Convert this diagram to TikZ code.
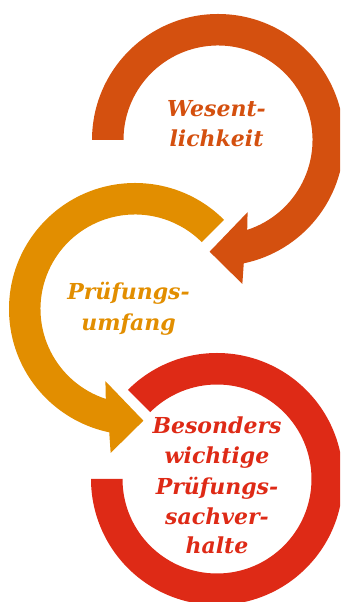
\documentclass[tikz,border=0pt]{standalone}
\usepackage{fontspec}
\setmainfont{DejaVu Serif}
\usetikzlibrary{calc}
\definecolor{topc}{HTML}{D4500F}
\definecolor{midc}{HTML}{E28E00}
\definecolor{redc}{HTML}{DE2A16}
\tikzset{
  lbl/.style={inner sep=0pt, anchor=base, font=\fontsize{22}{30}\selectfont\bfseries\itshape},
}
\begin{document}
\begin{tikzpicture}[x=1pt,y=1pt]
\useasboundingbox (0,0) rectangle (340,602);
\clip (0,0) rectangle (340,602);
% centres
\coordinate (ct) at (218,462);
\coordinate (co) at (135,293);
\coordinate (cr) at (217,123);
% top ring, clockwise, arrow at the lower left
\fill[topc] ($(ct)+(180:126pt)$) arc[start angle=180, end angle=-78.2, radius=126pt]
  -- ($(ct)+(-80.4:146pt)$) -- ($(ct)+(-94.3:112pt)$) -- ($(ct)+(-67.7:78pt)$)
  -- ($(ct)+(-72:94.5pt)$) arc[start angle=-72, end angle=180, radius=94.5pt] -- cycle;
% middle ring, counter-clockwise, arrow at the bottom
\fill[midc] ($(co)+(45:126pt)$) arc[start angle=45, end angle=258.2, radius=126pt]
  -- ($(co)+(260.4:146pt)$) -- ($(co)+(274.3:112pt)$) -- ($(co)+(247.7:78pt)$)
  -- ($(co)+(252:94.5pt)$) arc[start angle=252, end angle=45, radius=94.5pt] -- cycle;
% bottom ring
\fill[redc] ($(cr)+(135:126pt)$) arc[start angle=135, end angle=-180, radius=126pt]
  -- ($(cr)+(-180:94.5pt)$) arc[start angle=-180, end angle=135, radius=94.5pt] -- cycle;
% texts
\node[lbl, text=topc] (t1) at (216.5,485.3) {Wesent-};
\node[lbl, text=topc] (t2) at (216.5,455.3) {lichkeit};
\node[lbl, text=midc] (m1) at (128.5,302) {Prüfungs-};
\node[lbl, text=midc] (m2) at (128.5,271.5) {umfang};
\node[lbl, text=redc] (r1) at (217,168) {Besonders};
\node[lbl, text=redc] (r2) at (217,138) {wichtige};
\node[lbl, text=redc] (r3) at (217,107.5) {Prüfungs-};
\node[lbl, text=redc] (r4) at (217,77.5) {sachver-};
\node[lbl, text=redc] (r5) at (217,48) {halte};
\end{tikzpicture}
\end{document}
